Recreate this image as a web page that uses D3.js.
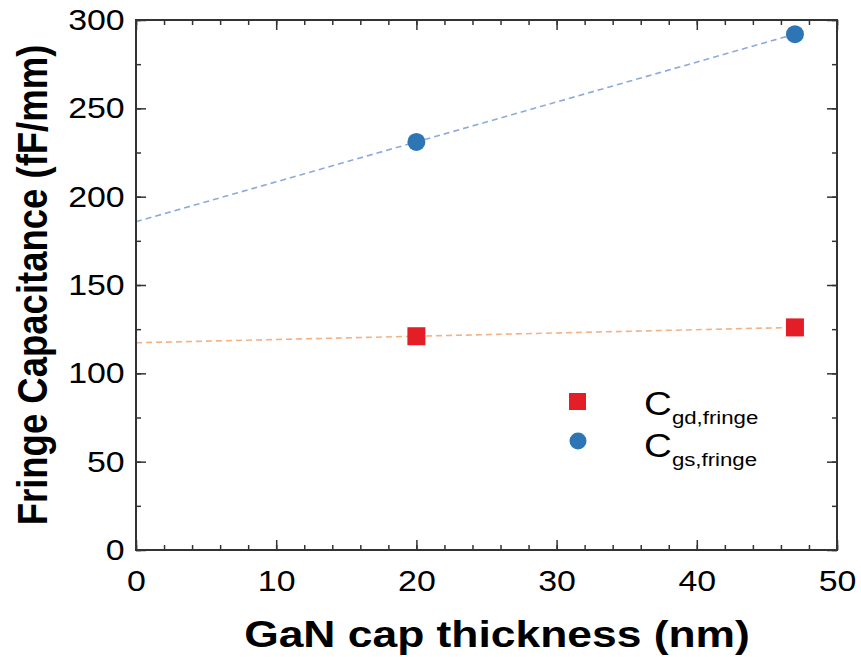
<!DOCTYPE html>
<html>
<head>
<meta charset="utf-8">
<script src="https://cdn.jsdelivr.net/npm/d3@7"></script>
<style>
  html, body { margin: 0; padding: 0; background: #fff; }
  svg { display: block; font-family: "Liberation Sans", Arial, sans-serif; }
</style>
</head>
<body>
<svg id="chart" width="861" height="657"></svg>
<script>
// GaN cap thickness (nm)
const thickness = [20, 47];
// Fringe capacitances (fF/mm)
const cgdFringe = [121, 126];
const cgsFringe = [231, 292];
const xTicks = [0, 10, 20, 30, 40, 50];
const yTicks = [0, 50, 100, 150, 200, 250, 300];

const svg = d3.select("#chart");
const m = { left: 136, right: 837, top: 20, bottom: 550 };
const wide = 1.17; // horizontal widening applied to the lettering

const x = d3.scaleLinear().domain([0, 50]).range([m.left, m.right]);
const y = d3.scaleLinear().domain([0, 300]).range([m.bottom, m.top]);

// linear least-squares fit, drawn from x = 0 to the last point
function fit(xs, ys) {
  const mx = d3.mean(xs), my = d3.mean(ys);
  let sxy = 0, sxx = 0;
  xs.forEach((v, i) => { sxy += (v - mx) * (ys[i] - my); sxx += (v - mx) ** 2; });
  const b = sxy / sxx, a = my - b * mx;
  return [[0, a], [d3.max(xs), a + b * d3.max(xs)]];
}

const line = d3.line().x(d => x(d[0])).y(d => y(d[1]));

svg.append("path").datum(fit(thickness, cgsFringe)).attr("d", line)
  .attr("fill", "none").attr("stroke", "#8eaadb").attr("stroke-width", 1.6)
  .attr("stroke-dasharray", "6,4");
svg.append("path").datum(fit(thickness, cgdFringe)).attr("d", line)
  .attr("fill", "none").attr("stroke", "#f4b183").attr("stroke-width", 1.6)
  .attr("stroke-dasharray", "6,4");

// axes with inward ticks on all four sides
const axisColor = "#333";
const xMinor = d3.range(0, 51, 2);
const yMinor = d3.range(0, 301, 25);

function styleAxis(g) {
  g.select(".domain").remove();
  g.selectAll("line").attr("stroke", axisColor).attr("stroke-width", 1.5);
}
function styleLabels(g) {
  g.selectAll("text").attr("font-size", 30).attr("fill", "#000")
    .attr("transform", "scale(1.13,1)");
}

svg.append("g").attr("transform", `translate(0,${m.bottom})`)
  .call(d3.axisBottom(x).tickValues(xMinor).tickSize(-5).tickFormat(""))
  .call(styleAxis);
svg.append("g").attr("transform", `translate(0,${m.bottom})`)
  .call(d3.axisBottom(x).tickValues(xTicks).tickSize(-10).tickPadding(20).tickFormat(d3.format("d")))
  .call(styleAxis).call(styleLabels);
svg.append("g").attr("transform", `translate(0,${m.top})`)
  .call(d3.axisTop(x).tickValues(xMinor).tickSize(-5).tickFormat(""))
  .call(styleAxis);
svg.append("g").attr("transform", `translate(0,${m.top})`)
  .call(d3.axisTop(x).tickValues(xTicks).tickSize(-10).tickFormat(""))
  .call(styleAxis);

svg.append("g").attr("transform", `translate(${m.left},0)`)
  .call(d3.axisLeft(y).tickValues(yMinor).tickSize(-5).tickFormat(""))
  .call(styleAxis);
svg.append("g").attr("transform", `translate(${m.left},0)`)
  .call(d3.axisLeft(y).tickValues(yTicks).tickSize(-10).tickPadding(10).tickFormat(d3.format("d")))
  .call(styleAxis).call(styleLabels);
svg.append("g").attr("transform", `translate(${m.right},0)`)
  .call(d3.axisRight(y).tickValues(yMinor).tickSize(-5).tickFormat(""))
  .call(styleAxis);
svg.append("g").attr("transform", `translate(${m.right},0)`)
  .call(d3.axisRight(y).tickValues(yTicks).tickSize(-10).tickFormat(""))
  .call(styleAxis);

// frame
svg.append("rect").attr("x", m.left).attr("y", m.top)
  .attr("width", m.right - m.left).attr("height", m.bottom - m.top)
  .attr("fill", "none").attr("stroke", axisColor).attr("stroke-width", 2);

// markers
svg.append("g").selectAll("rect").data(thickness).join("rect")
  .attr("x", d => x(d) - 9).attr("y", (d, i) => y(cgdFringe[i]) - 9)
  .attr("width", 18).attr("height", 18).attr("fill", "#e41e26");
svg.append("g").selectAll("circle").data(thickness).join("circle")
  .attr("cx", d => x(d)).attr("cy", (d, i) => y(cgsFringe[i])).attr("r", 9)
  .attr("fill", "#2e75b6");

// legend
const lg = svg.append("g");
lg.append("rect").attr("x", 569).attr("y", 393).attr("width", 17).attr("height", 17).attr("fill", "#e41e26");
lg.append("circle").attr("cx", 578).attr("cy", 441).attr("r", 8.5).attr("fill", "#2e75b6");
function legendLabel(yb, sub) {
  const t = lg.append("text")
    .attr("transform", `translate(644,${yb}) scale(${wide},1)`)
    .attr("font-size", 33).attr("fill", "#000");
  t.append("tspan").text("C");
  t.append("tspan").attr("font-size", 19).attr("dy", 9).text(sub);
}
legendLabel(415, "gd,fringe");
legendLabel(457, "gs,fringe");

// axis titles
svg.append("text")
  .attr("transform", "translate(497,647) scale(1.2,1)")
  .attr("text-anchor", "middle").attr("font-size", 37).attr("font-weight", "bold")
  .text("GaN cap thickness (nm)");
svg.append("text")
  .attr("transform", `translate(47,285) scale(${wide},1) rotate(-90)`)
  .attr("text-anchor", "middle").attr("font-size", 36.5).attr("font-weight", "bold")
  .text("Fringe Capacitance (fF/mm)");
</script>
</body>
</html>
